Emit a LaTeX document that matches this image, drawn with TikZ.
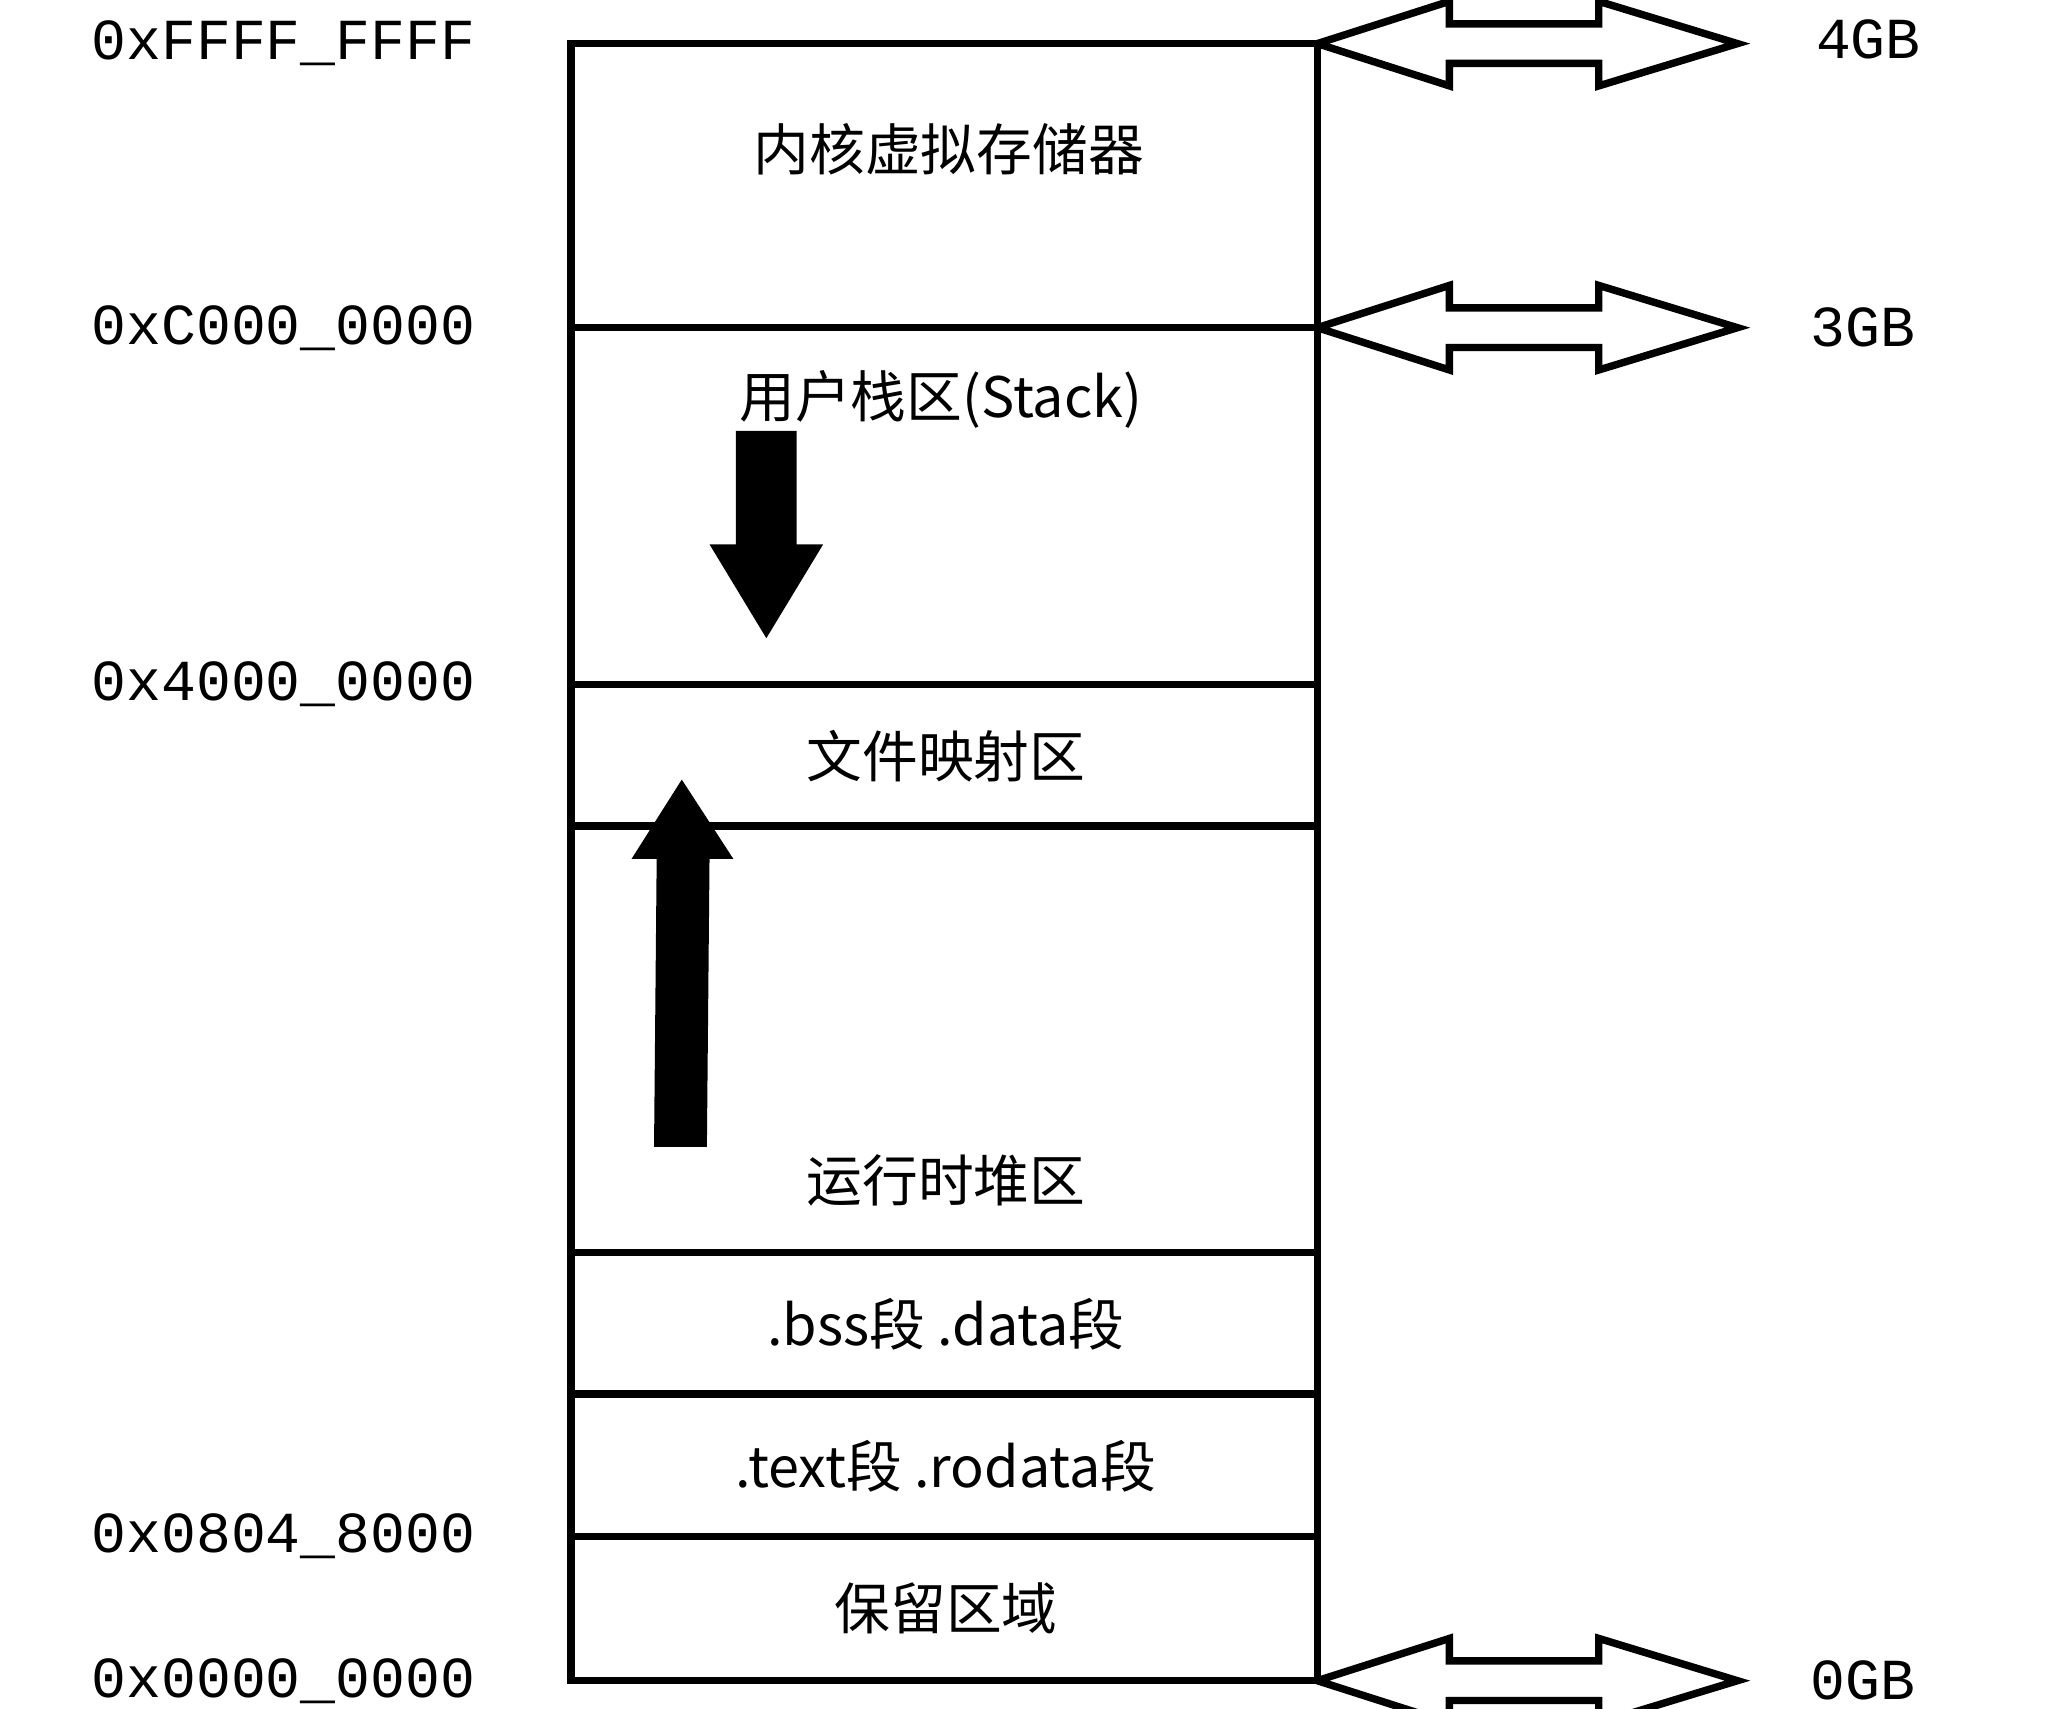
\documentclass[tikz,border=0pt]{standalone}
\usepackage{fontspec}
\setmainfont{Liberation Serif}
\newfontfamily\cjk{Noto Sans CJK SC}
\newfontfamily\hexfont{Liberation Mono}
\usepackage{tikz}
\tikzset{
  addr/.style={anchor=east,font=\hexfont\fontsize{12.5}{14}\selectfont},
  size/.style={anchor=west,font=\hexfont\fontsize{12.5}{14}\selectfont},
  area/.style={font=\cjk\fontsize{12}{14}\selectfont},
  dblarrow/.style={draw,line width=1.6pt,fill=white}
}
\begin{document}
\begin{tikzpicture}[x=0.01cm,y=-0.01cm]
  \useasboundingbox (0,0) rectangle (1550,1293);
  % memory blocks
  \draw[line width=1.6pt] (432,33) rectangle (997,1272);
  \foreach \y in {248,518,625,948,1055,1163}
    \draw[line width=1.6pt] (432,\y) -- (997,\y);

  \node[area] (kern) at (718,113) {内核虚拟存储器};
  \node[area] (stack) at (712,302) {用户栈区(Stack)};
  \node[area] (mmap) at (716,572) {文件映射区};
  \node[area] (heap) at (716,893) {运行时堆区};
  \node[area] (bss) at (716,1002) {.bss段 .data段};
  \node[area] (text) at (716,1110) {.text段 .rodata段};
  \node[area] (resv) at (716,1217) {保留区域};

  % addresses
  \node[addr] (a4) at (372,33) {0xFFFF\_FFFF};
  \node[addr] (a3) at (372,248) {0xC000\_0000};
  \node[addr] (a1) at (372,518) {0x4000\_0000};
  \node[addr] (a0) at (372,1163) {0x0804\_8000};
  \node[addr] (az) at (372,1272) {0x0000\_0000};

  % sizes
  \foreach \y/\t/\n/\x in {30/4GB/g4/1362,248/3GB/g3/1358,1272/0GB/g0/1358}
    \node[size] (\n) at (\x,\y) {\t};

  % double arrows
  \foreach \y in {33,248,1272}
    \draw[dblarrow] (997,\y) -- (1097,\y-32) -- (1097,\y-15) -- (1210,\y-15)
      -- (1210,\y-32) -- (1315,\y) -- (1210,\y+32) -- (1210,\y+15)
      -- (1097,\y+15) -- (1097,\y+32) -- cycle;

  % growth arrows
  \fill (557,326) -- (603,326) -- (603,412) -- (623,412) -- (580,483)
    -- (537,412) -- (557,412) -- cycle;
  \fill (495,868) -- (497,650) -- (478,650) -- (516,590) -- (555,650)
    -- (537,650) -- (535,868) -- cycle;
\end{tikzpicture}
\end{document}
